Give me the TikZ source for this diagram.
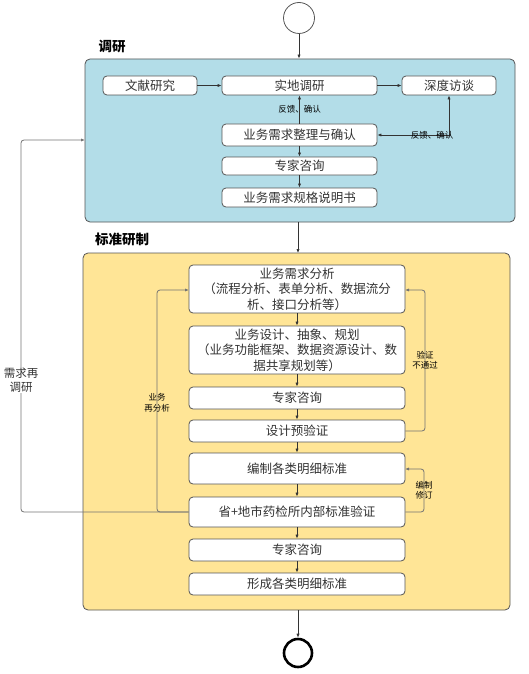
\documentclass[tikz,border=0pt]{standalone}
\usepackage{fontspec}
\setmainfont{Noto Sans CJK SC}
\usetikzlibrary{arrows.meta}
\definecolor{bluefill}{HTML}{B3DDE8}
\definecolor{yellowfill}{HTML}{FFE596}
\definecolor{edgegray}{HTML}{555555}
\definecolor{txtgray}{HTML}{333333}
\begin{document}
\begin{tikzpicture}[x=1pt,y=-1pt,
  box/.style={draw=edgegray, line width=0.8pt, fill=white, rounded corners=4pt, inner sep=1pt,
    text=txtgray, font=\fontsize{12.5}{15.5}\selectfont, align=center},
  bluebw/.style={box, minimum width=155pt},
  ywbox/.style={box, minimum width=216pt},
  container/.style={draw=edgegray, line width=0.8pt, rounded corners=5pt},
  arr/.style={draw=black!80, line width=0.7pt, -{Latex[length=4pt,width=3.2pt]}},
  loop/.style={draw=black!55, line width=0.8pt, rounded corners=3pt, -{Latex[length=4pt,width=3.2pt]}},
  small/.style={font=\fontsize{8.5}{10.5}\selectfont, text=black, align=center, inner sep=0pt},
  title/.style={font=\fontsize{13.5}{16}\selectfont\bfseries, text=black, inner sep=0pt}
]
\useasboundingbox (0,0) rectangle (528,674);

% start / end
\node[draw=edgegray, line width=0.8pt, circle, minimum size=31pt, inner sep=0pt] (start) at (299,18) {};
\node[draw=black, line width=2.6pt, circle, minimum size=28pt, inner sep=0pt] (end) at (298,653) {};

% containers
\node[title] (t1) at (112,46) {调研};
\node[container, fill=bluefill, minimum width=430pt, minimum height=163pt] (rb) at (300,140.5) {};
\node[title] (t2) at (122,239) {标准研制};
\node[container, fill=yellowfill, minimum width=427pt, minimum height=357pt] (yb) at (296.5,431.5) {};

% research nodes
\node[box, minimum width=94pt, minimum height=19pt] (wx) at (150,85.5) {文献研究};
\node[bluebw, minimum height=19pt] (sd) at (299.5,85.5) {实地调研};
\node[box, minimum width=94pt, minimum height=19pt] (sdft) at (449,85.5) {深度访谈};
\node[bluebw, minimum height=22pt] (zl) at (299.5,135) {业务需求整理与确认};
\node[bluebw, minimum height=18pt] (zj1) at (299.5,166) {专家咨询};
\node[bluebw, minimum height=19pt] (gg) at (299.5,197.5) {业务需求规格说明书};

% standard nodes
\node[ywbox, minimum height=48pt] (fx) at (297,289) {业务需求分析\\（流程分析、表单分析、数据流分\\析、接口分析等）};
\node[ywbox, minimum height=48pt] (sj) at (297,350) {业务设计、抽象、规划\\（业务功能框架、数据资源设计、数\\据共享规划等）};
\node[ywbox, minimum height=22pt] (zj2) at (297,398) {专家咨询};
\node[ywbox, minimum height=22pt] (yyz) at (297,431) {设计预验证};
\node[ywbox, minimum height=31pt] (bz) at (297,468.5) {编制各类明细标准};
\node[ywbox, minimum height=30pt] (sdsj) at (297,512) {省+地市药检所内部标准验证};
\node[ywbox, minimum height=22pt] (zj3) at (297,550) {专家咨询};
\node[ywbox, minimum height=22pt] (xc) at (297,584) {形成各类明细标准};

% research arrows
\draw[arr] (start) -- (rb.north -| start);
\draw[arr] (wx) -- (sd);
\draw[arr] (sd) -- (sdft);
\draw[arr] (zl) -- (sd);
\node[small] (l1) at (299.5,109) {反馈、确认};
\draw[draw=black!80, line width=0.7pt, {Latex[length=4pt,width=3.2pt]}-{Latex[length=4pt,width=3.2pt]}] (zl.east) -| (sdft.south);
\node[small] (l2) at (432,135.5) {反馈、确认};
\draw[arr] (zl) -- (zj1);
\draw[arr] (zj1) -- (gg);
\coordinate (rbs) at (298,222);
\coordinate (ybn) at (298,253);
\draw[arr] (rbs) -- (ybn);

% standard arrows
\draw[arr] (fx) -- (sj);
\draw[arr] (sj) -- (zj2);
\draw[arr] (zj2) -- (yyz);
\draw[arr] (yyz) -- (bz);
\draw[arr] (bz) -- (sdsj);
\draw[arr] (sdsj) -- (zj3);
\draw[arr] (zj3) -- (xc);
\draw[arr] (yb.south -| end) -- (end);

% loops
\coordinate (fxr) at (405,290);
\coordinate (fxl) at (189,290);
\draw[loop] (yyz.east) -- (425,431) -- (425,290) -- (fxr);
\node[small] (l3) at (425,360) {验证\\不通过};
\draw[loop] (sdsj.west) -- (157,512) -- (157,290) -- (fxl);
\node[small] (l4) at (157,403) {业务\\再分析};
\coordinate (bzr) at (405,469);
\draw[loop] (sdsj.east) -- (424,512) -- (424,469) -- (bzr);
\node[small] (l5) at (424,490) {编制\\修订};
\coordinate (rbw) at (85,140);
\draw[loop] (sdsj.west) -- (21,512) -- (21,140) -- (rbw);
\node[fill=white, inner sep=1pt, align=center, text=txtgray, font=\fontsize{11.5}{14}\selectfont] (l6) at (21,380) {需求再\\调研};
\end{tikzpicture}
\end{document}
